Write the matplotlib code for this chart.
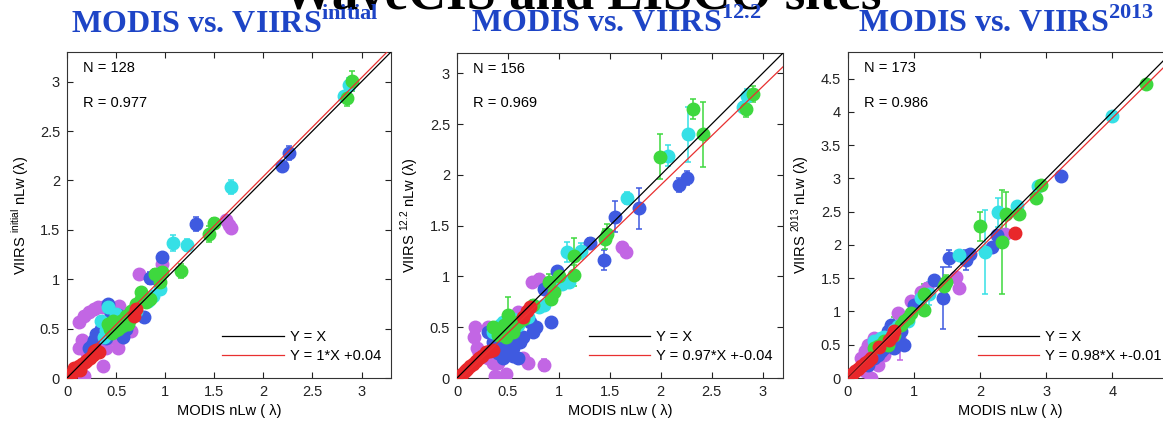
import numpy as np
import matplotlib
matplotlib.use("Agg")
import matplotlib.pyplot as plt

plt.rcParams['font.family'] = ['Liberation Sans', 'DejaVu Sans']
plt.rcParams['mathtext.fontset'] = 'custom'
plt.rcParams['mathtext.rm'] = 'Liberation Sans'
plt.rcParams['mathtext.bf'] = 'Liberation Serif:bold'

# colours for the five wavelengths (412, 443, 488, 547, 667)
COLORS = {
    'violet': '#c266e4',
    'blue': '#3f5ae0',
    'cyan': '#35e0e6',
    'green': '#3ed83e',
    'red': '#e8272a',
}
TITLE_BLUE = '#1d44c6'

# ---------------- panel 1 : VIIRS initial ----------------
p1_violet_x = [1.62, 1.65, 1.67, 0.97, 0.73, 0.53, 0.12, 0.17, 0.22, 0.27, 0.32, 0.37, 0.15, 0.12, 0.25, 0.30, 0.40, 0.52, 0.17, 0.37, 0.65, 0.55, 0.20, 0.45]
p1_violet_y = [1.60, 1.55, 1.52, 1.15, 1.05, 0.73, 0.57, 0.63, 0.67, 0.70, 0.72, 0.72, 0.38, 0.30, 0.35, 0.30, 0.30, 0.30, 0.02, 0.12, 0.48, 0.40, 0.25, 0.40]
p1_violet_e = [0.03, 0.03, 0.03, 0, 0, 0, 0, 0, 0, 0, 0, 0, 0, 0, 0, 0, 0, 0, 0, 0, 0, 0, 0, 0]
p1_blue_x = [2.26, 2.19, 1.31, 0.97, 0.85, 0.92, 0.42, 0.78, 0.57, 0.30, 0.28, 0.25, 0.45, 0.52, 0.60, 0.35, 0.40, 0.22]
p1_blue_y = [2.28, 2.15, 1.56, 1.22, 1.01, 1.00, 0.75, 0.62, 0.42, 0.45, 0.38, 0.33, 0.65, 0.64, 0.50, 0.50, 0.40, 0.30]
p1_blue_e = [0.07, 0.05, 0.07, 0, 0.06, 0, 0, 0, 0.05, 0, 0, 0, 0, 0, 0, 0, 0, 0]
p1_cyan_x = [2.82, 2.87, 1.67, 1.08, 1.22, 0.95, 0.88, 0.83, 0.60, 0.42, 0.40, 0.35, 0.55, 0.50, 0.38, 0.70]
p1_cyan_y = [2.85, 2.97, 1.93, 1.37, 1.35, 0.90, 0.83, 0.78, 0.62, 0.72, 0.49, 0.58, 0.58, 0.65, 0.42, 0.68]
p1_cyan_e = [0.05, 0.07, 0.07, 0.08, 0.06, 0, 0, 0, 0, 0.05, 0, 0, 0, 0, 0, 0]
p1_green_x = [2.85, 2.90, 1.50, 1.45, 1.16, 0.97, 0.95, 0.90, 0.75, 0.75, 0.70, 0.65, 0.60, 0.55, 0.50, 0.45, 0.42, 0.48, 0.52, 0.58, 0.62, 0.68, 0.85, 0.80,
              0.44, 0.47, 0.50, 0.53, 0.56, 0.60, 0.64, 0.46]
p1_green_y = [2.83, 3.01, 1.57, 1.46, 1.08, 1.07, 0.97, 1.05, 0.87, 0.80, 0.75, 0.68, 0.63, 0.58, 0.55, 0.54, 0.55, 0.52, 0.50, 0.60, 0.55, 0.70, 0.80, 0.77,
              0.50, 0.58, 0.49, 0.56, 0.53, 0.58, 0.60, 0.46]
p1_green_e = [0.08, 0.10, 0.05, 0.08, 0.07, 0.06, 0.07, 0.05] + [0] * 24
p1_red_x = [0.03, 0.05, 0.07, 0.08, 0.10, 0.12, 0.13, 0.15, 0.18, 0.20, 0.23, 0.26, 0.28, 0.30, 0.33, 0.68, 0.70]
p1_red_y = [0.02, 0.05, 0.10, 0.08, 0.10, 0.12, 0.08, 0.14, 0.16, 0.18, 0.20, 0.23, 0.27, 0.28, 0.26, 0.63, 0.70]
p1_red_e = [0] * 17

# ---------------- panel 2 : VIIRS 12.2 ----------------
p2_violet_x = [1.62, 1.66, 0.74, 1.00, 0.30, 0.18, 0.17, 0.20, 0.25, 0.35, 0.40, 0.65, 0.70, 0.85, 0.37, 0.48, 0.60, 0.80, 0.22, 0.30, 0.42]
p2_violet_y = [1.29, 1.24, 0.95, 0.93, 0.50, 0.50, 0.40, 0.30, 0.22, 0.15, 0.15, 0.20, 0.15, 0.13, 0.02, 0.04, 0.65, 0.97, 0.25, 0.20, 0.25]
p2_violet_e = [0.05, 0.05, 0, 0.05, 0, 0, 0, 0, 0, 0, 0, 0, 0, 0.06, 0, 0, 0, 0.05, 0, 0, 0]
p2_blue_x = [2.26, 2.18, 1.79, 1.55, 1.31, 1.44, 0.98, 0.85, 0.92, 0.78, 0.72, 0.75, 0.65, 0.50, 0.45, 0.40, 0.50, 0.55, 0.35, 0.30, 0.60, 0.45,
             0.38, 0.42, 0.48, 0.52, 0.58, 0.62, 0.55, 0.40, 0.33]
p2_blue_y = [1.97, 1.90, 1.67, 1.59, 1.33, 1.16, 1.05, 0.88, 0.55, 0.50, 0.55, 0.45, 0.40, 0.35, 0.30, 0.25, 0.25, 0.30, 0.35, 0.45, 0.20, 0.20,
             0.30, 0.38, 0.42, 0.36, 0.40, 0.35, 0.22, 0.45, 0.28]
p2_blue_e = [0.07, 0.07, 0.20, 0.15, 0.05, 0.10, 0, 0.05] + [0] * 23
p2_cyan_x = [2.85, 2.81, 2.27, 2.07, 1.67, 1.08, 1.22, 1.10, 1.03, 0.85, 0.80, 0.50, 0.42, 0.35, 0.60, 0.70, 0.45, 0.55]
p2_cyan_y = [2.78, 2.67, 2.40, 2.19, 1.77, 1.24, 1.25, 0.95, 0.93, 0.72, 0.70, 0.55, 0.52, 0.45, 0.52, 0.60, 0.55, 0.58]
p2_cyan_e = [0.07, 0.05, 0.27, 0.10, 0.06, 0.10, 0.08, 0.05] + [0] * 10
p2_green_x = [2.91, 2.84, 2.32, 2.41, 1.99, 1.47, 1.45, 1.15, 1.15, 1.00, 0.90, 0.95, 0.92, 0.75, 0.50, 0.45, 0.40, 0.48, 0.55, 0.60, 0.65, 0.35, 0.52,
              0.42, 0.50, 0.46, 0.56]
p2_green_y = [2.80, 2.65, 2.65, 2.40, 2.18, 1.42, 1.37, 1.20, 1.01, 1.00, 0.95, 0.85, 0.78, 0.72, 0.62, 0.45, 0.42, 0.40, 0.45, 0.55, 0.58, 0.50, 0.50,
              0.48, 0.45, 0.52, 0.50]
p2_green_e = [0.08, 0.08, 0.10, 0.32, 0.22, 0.10, 0.10, 0.18, 0.10, 0.06, 0.07, 0.07, 0, 0.05, 0.18] + [0] * 12
p2_red_x = [0.05, 0.08, 0.10, 0.13, 0.16, 0.19, 0.22, 0.25, 0.28, 0.32, 0.35, 0.65, 0.69, 0.72]
p2_red_y = [0.04, 0.07, 0.09, 0.12, 0.14, 0.17, 0.20, 0.22, 0.26, 0.27, 0.28, 0.60, 0.66, 0.70]
p2_red_e = [0] * 14

# ---------------- panel 3 : VIIRS 2013 ----------------
p3_violet_x = [2.38, 1.63, 1.68, 1.20, 1.10, 0.95, 0.75, 0.70, 0.78, 0.40, 0.30, 0.25, 0.20, 0.35, 0.25, 0.55, 0.45, 0.30, 0.35, 0.50, 0.60]
p3_violet_y = [2.17, 1.52, 1.35, 1.35, 1.30, 1.15, 0.98, 0.73, 0.55, 0.60, 0.50, 0.40, 0.30, 0.00, 0.10, 0.35, 0.20, 0.35, 0.45, 0.55, 0.50]
p3_violet_e = [0, 0, 0, 0.08, 0, 0, 0, 0, 0.28] + [0] * 12
p3_blue_x = [3.22, 2.25, 2.18, 1.85, 1.78, 1.52, 1.30, 1.43, 1.00, 0.85, 0.65, 0.50, 0.40, 0.30, 0.60, 0.75, 0.70, 0.45, 0.55, 0.80, 0.65]
p3_blue_y = [3.03, 2.15, 1.97, 1.87, 1.78, 1.80, 1.48, 1.20, 1.10, 0.50, 0.58, 0.40, 0.30, 0.20, 0.70, 0.60, 0.45, 0.35, 0.45, 0.70, 0.80]
p3_blue_e = [0, 0, 0, 0.05, 0.15, 0.13, 0, 0.47] + [0] * 13
p3_cyan_x = [4.00, 2.87, 2.56, 2.27, 2.07, 1.68, 1.22, 1.10, 0.90, 0.75, 0.40, 0.50, 0.45, 0.55, 0.70]
p3_cyan_y = [3.94, 2.88, 2.59, 2.49, 1.89, 1.85, 1.27, 1.20, 0.85, 0.78, 0.55, 0.60, 0.50, 0.62, 0.72]
p3_cyan_e = [0, 0, 0, 0.22, 0.63, 0, 0.18] + [0] * 8
p3_green_x = [4.50, 2.92, 2.85, 2.59, 2.39, 2.33, 2.00, 1.48, 1.45, 1.15, 1.15, 0.95, 0.90, 0.85, 0.70, 0.50, 0.45, 0.55, 0.40, 0.60, 0.80]
p3_green_y = [4.42, 2.90, 2.70, 2.46, 2.46, 2.04, 2.28, 1.45, 1.38, 1.27, 1.02, 0.98, 0.90, 0.85, 0.65, 0.50, 0.48, 0.55, 0.45, 0.50, 0.80]
p3_green_e = [0.05, 0, 0.05, 0, 0.33, 0.78, 0.22, 0.10, 0.10, 0.15, 0, 0, 0, 0, 0.27] + [0] * 6
p3_red_x = [2.52, 0.70, 0.67, 0.62, 0.47, 0.35, 0.30, 0.25, 0.20, 0.15, 0.10, 0.06, 0.03]
p3_red_y = [2.18, 0.70, 0.63, 0.57, 0.47, 0.30, 0.26, 0.22, 0.18, 0.14, 0.10, 0.06, 0.03]
p3_red_e = [0] * 13

panels = [
    {
        'sup': 'initial', 'n': 128, 'r': 0.977, 'slope': 1.0, 'icpt': 0.04,
        'fit_label': 'Y = 1*X +0.04', 'lim': 3.3,
        'series': [
            ('violet', p1_violet_x, p1_violet_y, p1_violet_e),
            ('blue', p1_blue_x, p1_blue_y, p1_blue_e),
            ('cyan', p1_cyan_x, p1_cyan_y, p1_cyan_e),
            ('green', p1_green_x, p1_green_y, p1_green_e),
            ('red', p1_red_x, p1_red_y, p1_red_e),
        ],
    },
    {
        'sup': '12.2', 'n': 156, 'r': 0.969, 'slope': 0.97, 'icpt': -0.04,
        'fit_label': 'Y = 0.97*X +-0.04', 'lim': 3.2,
        'series': [
            ('violet', p2_violet_x, p2_violet_y, p2_violet_e),
            ('blue', p2_blue_x, p2_blue_y, p2_blue_e),
            ('cyan', p2_cyan_x, p2_cyan_y, p2_cyan_e),
            ('green', p2_green_x, p2_green_y, p2_green_e),
            ('red', p2_red_x, p2_red_y, p2_red_e),
        ],
    },
    {
        'sup': '2013', 'n': 173, 'r': 0.986, 'slope': 0.98, 'icpt': -0.01,
        'fit_label': 'Y = 0.98*X +-0.01', 'lim': 4.9,
        'series': [
            ('violet', p3_violet_x, p3_violet_y, p3_violet_e),
            ('blue', p3_blue_x, p3_blue_y, p3_blue_e),
            ('cyan', p3_cyan_x, p3_cyan_y, p3_cyan_e),
            ('green', p3_green_x, p3_green_y, p3_green_e),
            ('red', p3_red_x, p3_red_y, p3_red_e),
        ],
    },
]

W, H = 1163, 425
fig = plt.figure(figsize=(W / 100, H / 100), dpi=100)

# axes boxes in pixels: left, top, width (bottom is shared)
boxes = [(67, 52, 324), (457, 53, 326), (848, 52, 324)]
bottom_px = 378

# slide title, mostly cut off at the top of the image
fig.text(0.5, 1 - 9 / H, 'WaveCIS and LISCO sites', fontsize=38, fontweight='bold',
         family='Liberation Serif', ha='center', va='baseline', color='black')

for p, (left, top, width) in zip(panels, boxes):
    ax = fig.add_axes([left / W, (H - bottom_px) / H, width / W, (bottom_px - top) / H])
    lim = p['lim']

    for cname, xs, ys, es in p['series']:
        xs, ys, es = np.array(xs), np.array(ys), np.array(es)
        c = COLORS[cname]
        m = es > 0
        if m.any():
            ax.errorbar(xs[m], ys[m], yerr=es[m], fmt='none', ecolor=c, elinewidth=1.1,
                        capsize=2.5, capthick=1.1, zorder=2)
        ax.plot(xs, ys, 'o', color=c, mec=c, ms=9, zorder=3)

    xx = np.array([0, lim])
    ax.plot(xx, xx, color='black', lw=0.9, label='Y = X', zorder=4)
    ax.plot(xx, p['slope'] * xx + p['icpt'], color='#e83030', lw=0.9, label=p['fit_label'], zorder=4)

    ax.set_xlim(0, lim)
    ax.set_ylim(0, lim)
    if lim > 4:
        ax.set_xticks([0, 1, 2, 3, 4])
        ax.set_xticklabels(['0', '1', '2', '3', '4'])
        yt = np.arange(0, 4.51, 0.5)
    else:
        xt = np.arange(0, 3.01, 0.5)
        ax.set_xticks(xt)
        ax.set_xticklabels(['%g' % v for v in xt])
        yt = xt
    ax.set_yticks(yt)
    ax.set_yticklabels(['%g' % v for v in yt])
    ax.tick_params(direction='in', top=True, right=True, length=4, width=0.8,
                   labelsize=10.5, colors='#222222', pad=5)
    for s in ax.spines.values():
        s.set_color('#333333')
        s.set_linewidth(0.8)

    ax.set_xlabel('MODIS nLw ( λ)', fontsize=10.5, labelpad=4)
    ax.set_ylabel(r'VIIRS $^{\mathrm{%s}}$ nLw (λ)' % p['sup'], fontsize=10.5, labelpad=6)

    ax.text(0.05, 0.95, 'N = %d' % p['n'], transform=ax.transAxes, fontsize=10.5,
            va='center', ha='left')
    ax.text(0.05, 0.845, 'R = %.3f' % p['r'], transform=ax.transAxes, fontsize=10.5,
            va='center', ha='left')

    ax.legend(loc='lower right', bbox_to_anchor=(1.0, 0.015), frameon=False, fontsize=10.5,
              handlelength=4.2, handletextpad=0.4, labelspacing=0.35, borderaxespad=0.3)

    # blue slide titles above each panel
    cx = (left + width / 2 - 4) / W
    fig.text(cx, 1 - 32 / H, r'MODIS vs. VIIRS$^{\mathbf{%s}}$' % p['sup'], fontsize=23,
             fontweight='bold', family='Liberation Serif', color=TITLE_BLUE,
             ha='center', va='baseline')

fig.savefig('out.png', dpi=100)
